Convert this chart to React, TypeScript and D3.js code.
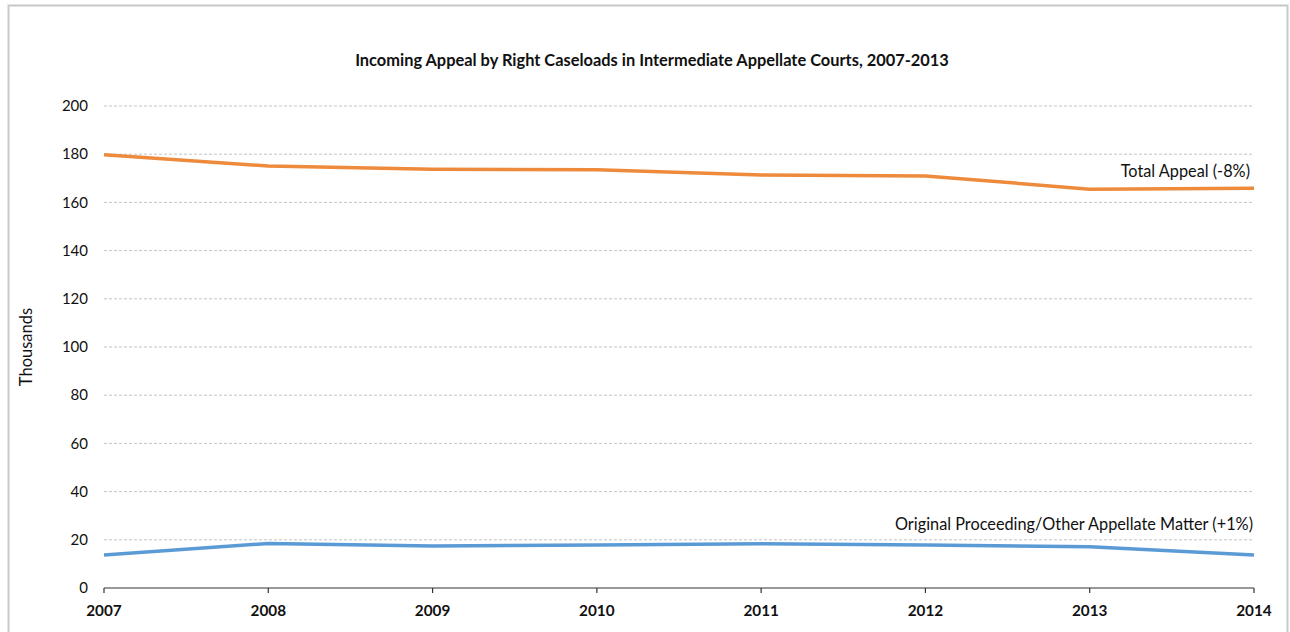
import React from "react";
import * as d3 from "d3";

const years = [2007, 2008, 2009, 2010, 2011, 2012, 2013, 2014];
const totalAppeal = [179.8, 175.1, 173.8, 173.5, 171.4, 171.0, 165.5, 165.9];
const originalProceeding = [13.7, 18.5, 17.4, 17.8, 18.4, 17.8, 17.1, 13.7];
const yTicks = [0, 20, 40, 60, 80, 100, 120, 140, 160, 180, 200];
const title = "Incoming Appeal by Right Caseloads in Intermediate Appellate Courts, 2007-2013";
const totalLabel = "Total Appeal (-8%)";
const origLabel = "Original Proceeding/Other Appellate Matter (+1%)";

export default function App() {
  const W = 1290, H = 632;
  const x = d3.scaleLinear().domain([2007, 2014]).range([104, 1254]);
  const y = d3.scaleLinear().domain([0, 200]).range([588, 106]);
  const line = d3.line<number>().x((_, i) => x(years[i])).y((d) => y(d));
  const font = "Lato, 'Open Sans', sans-serif";
  return (
    <svg width={W} height={H} style={{ position: "absolute", left: 0, top: 0, display: "block" }}>
      <rect x={0} y={0} width={W} height={H} fill="#fff" />
      <rect x={8.5} y={5.5} width={1279} height={640} fill="#fff" stroke="#c8c8c8" strokeWidth={2} />
      <text x={652} y={66} textAnchor="middle" fontFamily={font} fontWeight="bold" fontSize={16.4} fill="#111">{title}</text>
      {yTicks.map((t) => (
        <g key={t}>
          {t > 0 && (
            <line x1={104} x2={1254} y1={y(t)} y2={y(t)} stroke="#c4c4c4" strokeWidth={1} strokeDasharray="3,2" />
          )}
          <text x={88} y={y(t)} dy="0.35em" textAnchor="end" fontFamily={font} fontSize={15} fill="#111">{t}</text>
        </g>
      ))}
      <line x1={104} x2={1254} y1={y(0)} y2={y(0)} stroke="#333" strokeWidth={1.2} />
      {years.map((yr) => (
        <g key={yr}>
          <line x1={x(yr)} x2={x(yr)} y1={y(0)} y2={y(0) + 5} stroke="#333" strokeWidth={1.2} />
          <text x={x(yr)} y={616} textAnchor="middle" fontFamily={font} fontWeight="bold" fontSize={15.3} fill="#111">{yr}</text>
        </g>
      ))}
      <text transform={`translate(32,347) rotate(-90)`} textAnchor="middle" fontFamily={font} fontSize={16.5} fill="#111">Thousands</text>
      <path d={line(totalAppeal) || ""} fill="none" stroke="#ee8a3c" strokeWidth={3.5} strokeLinejoin="round" />
      <path d={line(originalProceeding) || ""} fill="none" stroke="#5b9bd5" strokeWidth={3.5} strokeLinejoin="round" />
      <text x={1250} y={177} textAnchor="end" fontFamily={font} fontSize={16.3} fill="#111">{totalLabel}</text>
      <text x={1253} y={530} textAnchor="end" fontFamily={font} fontSize={16.3} fill="#111">{origLabel}</text>
    </svg>
  );
}
